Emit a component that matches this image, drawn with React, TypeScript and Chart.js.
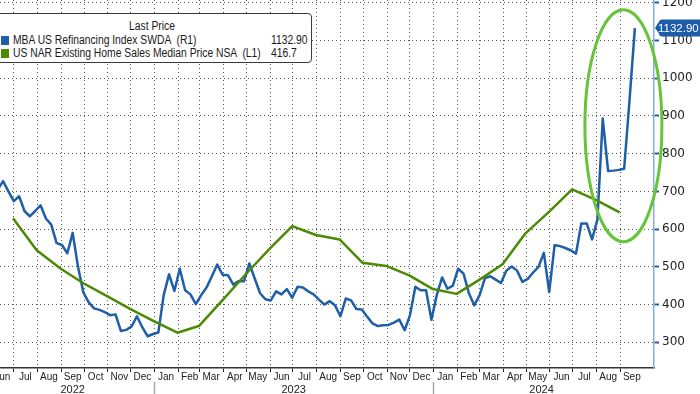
import React, { useEffect, useRef } from 'react';
import { Chart, registerables } from 'chart.js';

Chart.register(...registerables);

// ---------------- data ----------------
// MBA US Refinancing Index (weekly, week ending Friday), right axis
const refiStart = '2022-06-10';
const refiWeekly: number[] = [
  // 2022 Jun 10 .. Dec 30
  705, 727, 700, 674, 687, 648, 634, 648, 663, 628, 612, 563, 558, 536, 590, 500, 432, 406, 390, 386,
  380, 372, 374, 330, 333, 342, 369, 340, 316, 322,
  // 2023 Jan 6 .. Dec 29
  326, 425, 480, 436, 495, 438, 427, 401, 425, 445, 475, 506, 479, 478, 453, 462, 462, 509, 469, 430,
  414, 411, 435, 427, 441, 418, 447, 445, 435, 427, 413, 400, 409, 398, 369, 416, 411, 388, 387, 368,
  350, 343, 345, 346, 352, 360, 332, 372, 447, 438, 438, 360,
  // 2024 Jan 5 .. Sep 20
  425, 472, 442, 450, 495, 482, 430, 398, 425, 470, 475, 466, 457, 490, 501, 490, 460, 468, 485, 500,
  537, 433, 557, 555, 550, 544, 535, 615, 615, 573, 625, 893, 754, 755, 757, 760, 942, 1132.9,
];

// US NAR Existing Home Sales Median Price NSA ($k, monthly), hidden left axis
const priceMonths: string[] = [
  '2022-06', '2022-07', '2022-08', '2022-09', '2022-10', '2022-11', '2022-12',
  '2023-01', '2023-02', '2023-03', '2023-04', '2023-05', '2023-06', '2023-07', '2023-08', '2023-09',
  '2023-10', '2023-11', '2023-12',
  '2024-01', '2024-02', '2024-03', '2024-04', '2024-05', '2024-06', '2024-07', '2024-08',
];
const priceValues: number[] = [
  413.8, 398.5, 389.8, 382.7, 376.5, 370.4, 364.6,
  359.0, 362.2, 374.6, 386.9, 399.0, 410.1, 405.8, 403.7, 392.5, 391.0, 386.5, 379.9,
  377.6, 384.2, 391.8, 406.6, 417.0, 427.7, 422.6, 416.7,
];

const monthNames = ['Jan', 'Feb', 'Mar', 'Apr', 'May', 'Jun', 'Jul', 'Aug', 'Sep', 'Oct', 'Nov', 'Dec'];
const firstMonthTick = '2022-06-01';
const lastMonthTick = '2024-09-01';
const yearLabels = ['2022', '2023', '2024'];
const yearLabelDates = ['2022-09-16', '2023-07-02', '2024-05-21'];
const yearSeparatorDates = ['2023-01-01', '2024-01-01'];
const rightTicks = [300, 400, 500, 600, 700, 800, 900, 1000, 1100, 1200];

const legendTitle = 'Last Price';
const seriesNames = ['MBA US Refinancing Index SWDA  (R1)', 'US NAR Existing Home Sales Median Price NSA  (L1)'];
const lastValueLabels = ['1132.90', '416.7'];

const xRangeDates = ['2022-06-13', '2024-10-15'];
const rightRange = [231.9, 1207.2];
const leftRange = [342.1, 518.4];

const BLUE = '#1f5ea8';
const GREEN = '#4c8a04';
const GRID = '#555555';

// ---------------- helpers ----------------
const EPOCH = Date.UTC(2023, 0, 1);
const dayNum = (s: string) => {
  const [y, m, d] = s.split('-').map(Number);
  return (Date.UTC(y, m - 1, d || 1) - EPOCH) / 864e5;
};
const monthEnd = (s: string) => {
  const [y, m] = s.split('-').map(Number);
  return (Date.UTC(y, m, 0) - EPOCH) / 864e5;
};

const refiPoints = refiWeekly.map((v, i) => ({ x: dayNum(refiStart) + 7 * i, y: v }));
const pricePoints = priceValues.map((v, i) => ({ x: monthEnd(priceMonths[i]), y: v }));

const monthTickValues: number[] = [];
const monthTickLabels: string[] = [];
{
  let [y, m] = firstMonthTick.split('-').map(Number);
  const [ly, lm] = lastMonthTick.split('-').map(Number);
  while (y < ly || (y === ly && m <= lm)) {
    monthTickValues.push((Date.UTC(y, m - 1, 1) - EPOCH) / 864e5);
    monthTickLabels.push(monthNames[m - 1]);
    m++;
    if (m > 12) { m = 1; y++; }
  }
}

const yearTicks = [
  ...yearLabelDates.map((d, i) => ({ value: dayNum(d), label: yearLabels[i], sep: false })),
  ...yearSeparatorDates.map((d) => ({ value: dayNum(d), label: '', sep: true })),
].sort((a, b) => a.value - b.value);

const overlayPlugin = {
  id: 'overlay',
  afterDraw(chart: any) {
    const { ctx } = chart;
    const ys = chart.scales.y;
    const xs = chart.scales.x;
    const last = refiWeekly[refiWeekly.length - 1];
    const py = ys.getPixelForValue(last);
    const x0 = ys.left + 1;
    const h = 17;
    const r = 3;
    const x1 = chart.width + 4;
    ctx.save();
    ctx.fillStyle = '#1d5ca6';
    ctx.beginPath();
    ctx.moveTo(x0, py);
    ctx.lineTo(x0 + 4, py - h / 2 + 2);
    ctx.arcTo(x0 + 4, py - h / 2, x0 + 4 + r, py - h / 2, r);
    ctx.lineTo(x1, py - h / 2);
    ctx.lineTo(x1, py + h / 2);
    ctx.lineTo(x0 + 4 + r, py + h / 2);
    ctx.arcTo(x0 + 4, py + h / 2, x0 + 4, py + h / 2 - r, r);
    ctx.closePath();
    ctx.fill();
    ctx.fillStyle = '#ffffff';
    ctx.font = '11.5px "Liberation Sans", Arial, sans-serif';
    ctx.textBaseline = 'middle';
    ctx.textAlign = 'left';
    ctx.fillText(lastValueLabels[0], x0 + 3, py + 0.5);

    // highlight ellipse around the latest surge
    const cx = xs.getPixelForValue(dayNum('2024-09-05'));
    const cy = ys.getPixelForValue(874);
    ctx.strokeStyle = '#66c43a';
    ctx.lineWidth = 3;
    ctx.beginPath();
    ctx.ellipse(cx, cy, 38.5, 116, 0, 0, Math.PI * 2);
    ctx.stroke();
    ctx.restore();
  },
};

const monthFont = { family: '"Liberation Sans", Arial, sans-serif', size: 10, lineHeight: 1 };

function ChartCanvas() {
  const ref = useRef<HTMLCanvasElement | null>(null);
  useEffect(() => {
    if (!ref.current) return;
    const xMin = dayNum(xRangeDates[0]);
    const xMax = dayNum(xRangeDates[1]);
    const chart = new Chart(ref.current, {
      type: 'line',
      data: {
        datasets: [
          {
            label: seriesNames[1],
            data: pricePoints,
            xAxisID: 'x',
            yAxisID: 'yL',
            borderColor: GREEN,
            borderWidth: 2.5,
            pointRadius: 0,
            tension: 0,
            borderJoinStyle: 'round',
          },
          {
            label: seriesNames[0],
            data: refiPoints,
            xAxisID: 'x',
            yAxisID: 'y',
            borderColor: BLUE,
            borderWidth: 2.5,
            pointRadius: 0,
            tension: 0,
            borderJoinStyle: 'round',
          },
        ],
      },
      options: {
        animation: false,
        responsive: false,
        devicePixelRatio: 1,
        layout: { padding: 0 },
        plugins: { legend: { display: false }, tooltip: { enabled: false }, title: { display: false } },
        scales: {
          x: {
            type: 'linear',
            position: 'bottom',
            weight: 0,
            min: xMin,
            max: xMax,
            afterBuildTicks: (s: any) => { s.ticks = monthTickValues.map((v) => ({ value: v })); },
            afterFit: (s: any) => { s.paddingLeft = 0; s.paddingRight = 0; s.height = 14; },
            grid: {
              display: true,
              drawOnChartArea: true,
              color: GRID,
              lineWidth: 1,
              drawTicks: true,
              tickLength: 4,
              tickColor: '#222',
              tickWidth: 1,
            },
            border: { display: true, color: '#333', width: 1.5, dash: [1, 3] },
            ticks: {
              autoSkip: false,
              maxRotation: 0,
              minRotation: 0,
              padding: 0,
              labelOffset: 11.5,
              color: '#222',
              font: monthFont,
              callback: (_v: any, i: number) => monthTickLabels[i],
            },
          },
          xYear: {
            type: 'linear',
            position: 'bottom',
            weight: 1,
            min: xMin,
            max: xMax,
            afterBuildTicks: (s: any) => { s.ticks = yearTicks.map((t) => ({ value: t.value })); },
            afterFit: (s: any) => { s.paddingLeft = 0; s.paddingRight = 0; s.height = 12; },
            grid: {
              drawOnChartArea: false,
              drawTicks: true,
              tickLength: 12,
              tickWidth: 1.5,
              tickColor: (c: any) => (yearTicks[c.index] && yearTicks[c.index].sep ? '#a8a8a8' : 'rgba(0,0,0,0)'),
            },
            border: { display: false },
            ticks: {
              autoSkip: false,
              maxRotation: 0,
              minRotation: 0,
              padding: -10,
              color: '#222',
              font: { ...monthFont, size: 11 },
              callback: (_v: any, i: number) => yearTicks[i].label,
            },
          },
          y: {
            type: 'linear',
            position: 'right',
            min: rightRange[0],
            max: rightRange[1],
            afterBuildTicks: (s: any) => { s.ticks = rightTicks.map((v) => ({ value: v })); },
            afterFit: (s: any) => { s.width = 46; s.paddingTop = 0; s.paddingBottom = 0; },
            grid: {
              display: true,
              drawOnChartArea: true,
              color: GRID,
              lineWidth: 1,
              drawTicks: true,
              tickLength: 5,
              tickColor: '#1f5ea8',
              tickWidth: 2,
            },
            border: { display: true, color: '#86aedc', width: 1.5, dash: [1, 3] },
            ticks: {
              padding: 3,
              color: '#222',
              font: { family: '"DejaVu Sans", sans-serif', size: 12 },
              callback: (v: any) => String(v),
            },
          },
          yL: {
            type: 'linear',
            position: 'left',
            display: false,
            min: leftRange[0],
            max: leftRange[1],
          },
        },
      },
      plugins: [overlayPlugin],
    } as any);
    return () => chart.destroy();
  }, []);
  return <canvas ref={ref} width={700} height={394} style={{ display: 'block', width: 700, height: 394 }} />;
}

const legendFont = '"Liberation Sans", Arial, sans-serif';
const condensed = (left: number, text: string, center = false) => (
  <span
    style={{
      position: 'absolute',
      left,
      top: 0,
      whiteSpace: 'pre',
      display: 'inline-block',
      transform: center ? 'translateX(-50%) scaleX(0.86)' : 'scaleX(0.86)',
      transformOrigin: center ? '50% 50%' : '0 50%',
    }}
  >
    {text}
  </span>
);

function Legend() {
  const row = (top: number, color: string, name: string, value: string) => (
    <div style={{ position: 'absolute', top, left: 0, right: 0, height: 13, lineHeight: '13px' }}>
      <div style={{ position: 'absolute', left: 4, top: 2, width: 8, height: 9, background: color }} />
      {condensed(15.5, name)}
      {condensed(274, value)}
    </div>
  );
  return (
    <div
      style={{
        position: 'absolute',
        left: -4,
        top: 13,
        width: 316,
        height: 50,
        boxSizing: 'border-box',
        border: '1px solid #3a3a3a',
        borderRadius: 4,
        background: '#fff',
        fontFamily: legendFont,
        fontSize: 12,
        color: '#1a1a1a',
      }}
    >
      <div style={{ position: 'absolute', top: 6, left: 0, right: 0, height: 13, lineHeight: '13px' }}>
        {condensed(155, legendTitle, true)}
      </div>
      {row(20, BLUE, seriesNames[0], lastValueLabels[0])}
      {row(33, GREEN, seriesNames[1], lastValueLabels[1])}
    </div>
  );
}

export default function App() {
  return (
    <div style={{ position: 'fixed', left: 0, top: 0, width: 700, height: 394, overflow: 'hidden', background: '#fff' }}>
      <ChartCanvas />
      <Legend />
    </div>
  );
}
